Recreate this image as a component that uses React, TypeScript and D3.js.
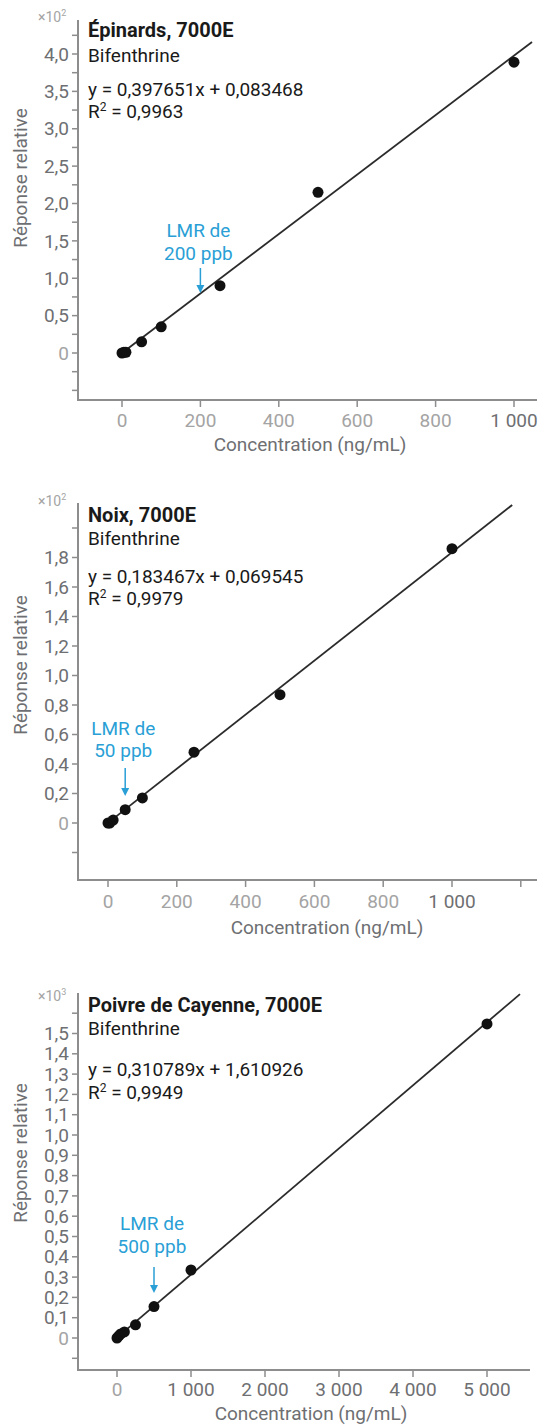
import React from "react";
import * as d3 from "d3";

// ---------- data ----------
const titles = ["Épinards, 7000E", "Noix, 7000E", "Poivre de Cayenne, 7000E"];
const compound = "Bifenthrine";
const equations = [
  "y = 0,397651x + 0,083468",
  "y = 0,183467x + 0,069545",
  "y = 0,310789x + 1,610926",
];
const r2Values = ["0,9963", "0,9979", "0,9949"];
const slopes = [0.397651, 0.183467, 0.310789];
const intercepts = [0.083468, 0.069545, 1.610926];
const exponents = [2, 2, 3];
const fitXMax = [1046, 1175, 5446];
const lmrValues = [200, 50, 500];

const concEpinards = [0, 5, 10, 50, 100, 250, 500, 1000];
const respEpinards = [0, 0.01, 0.01, 0.15, 0.35, 0.9, 2.15, 3.89];
const concNoix = [0, 5, 15, 50, 100, 250, 500, 1000];
const respNoix = [0, 0.0, 0.02, 0.09, 0.17, 0.48, 0.87, 1.86];
const concPoivre = [0, 25, 50, 100, 250, 500, 1000, 5000];
const respPoivre = [0, 0.01, 0.02, 0.03, 0.065, 0.155, 0.335, 1.547];

const yTicks1 = [-0.5, -0.25, 0, 0.25, 0.5, 0.75, 1, 1.25, 1.5, 1.75, 2, 2.25, 2.5, 2.75, 3, 3.25, 3.5, 3.75, 4, 4.25];
const yLabels1 = [0, 0.5, 1, 1.5, 2, 2.5, 3, 3.5, 4];
const xTicks1 = [0, 200, 400, 600, 800, 1000];
const xLabels1 = [0, 200, 400, 600, 800, 1000];

const yTicks2 = [-0.2, 0, 0.2, 0.4, 0.6, 0.8, 1.0, 1.2, 1.4, 1.6, 1.8, 2.0];
const yLabels2 = [0, 0.2, 0.4, 0.6, 0.8, 1.0, 1.2, 1.4, 1.6, 1.8];
const xTicks2 = [0, 200, 400, 600, 800, 1000, 1200];
const xLabels2 = [0, 200, 400, 600, 800, 1000];

const yTicks3 = [-0.1, 0, 0.1, 0.2, 0.3, 0.4, 0.5, 0.6, 0.7, 0.8, 0.9, 1.0, 1.1, 1.2, 1.3, 1.4, 1.5, 1.6];
const yLabels3 = [0, 0.1, 0.2, 0.3, 0.4, 0.5, 0.6, 0.7, 0.8, 0.9, 1.0, 1.1, 1.2, 1.3, 1.4, 1.5];
const xTicks3 = [0, 1000, 2000, 3000, 4000, 5000];
const xLabels3 = [0, 1000, 2000, 3000, 4000, 5000];

// ---------- layout ----------
const W = 543;
const H = 1427;
const FONT = "Roboto, 'Noto Sans', sans-serif";
const GRAY_AXIS = "#8d8d8d";
const GRAY_TEXT = "#6e6f72";
const GRAY_LIGHT = "#a4a4a4";
const BLUE = "#2a9fd6";

const fr = d3.formatLocale({ decimal: ",", thousands: "\u00a0", grouping: [3], currency: ["", "€"] });
const fmtX = fr.format(",d");
const fmtY1 = fr.format(".1f");

const panels = [
  {
    conc: concEpinards, resp: respEpinards, yTicks: yTicks1, yLabels: yLabels1, xTicks: xTicks1, xLabels: xLabels1,
    xDom: [0, 1000], xRange: [122, 514], yDom: [0, 4], yRange: [353, 54],
    axisLeft: 78, axisBottom: 400, axisTop: 20, axisRight: 537,
    textY: [37, 62, 96, 118], lmrY: [237, 260, 268, 293],
    yTitleY: 178, xTitleX: 310, xTitleY: 451, xLabelY: 427, expY: 22,
  },
  {
    conc: concNoix, resp: respNoix, yTicks: yTicks2, yLabels: yLabels2, xTicks: xTicks2, xLabels: xLabels2,
    xDom: [0, 1000], xRange: [108, 452], yDom: [0, 1.8], yRange: [823, 557.5],
    axisLeft: 78, axisBottom: 880, axisTop: 503, axisRight: 537,
    textY: [522, 545, 583, 605], lmrY: [735, 757, 768, 796],
    yTitleY: 665, xTitleX: 327, xTitleY: 934, xLabelY: 908, expY: 506,
  },
  {
    conc: concPoivre, resp: respPoivre, yTicks: yTicks3, yLabels: yLabels3, xTicks: xTicks3, xLabels: xLabels3,
    xDom: [0, 5000], xRange: [117, 487], yDom: [0, 1.5], yRange: [1338, 1033.5],
    axisLeft: 78, axisBottom: 1370, axisTop: 993, axisRight: 530,
    textY: [1012, 1035, 1076, 1099], lmrY: [1230, 1253, 1267, 1293],
    yTitleY: 1153, xTitleX: 311, xTitleY: 1420, xLabelY: 1396, expY: 1001,
  },
];

function Panel({ p, i }: { p: any; i: number }) {
  const x = d3.scaleLinear().domain(p.xDom).range(p.xRange);
  const y = d3.scaleLinear().domain(p.yDom).range(p.yRange);
  const div = Math.pow(10, exponents[i]);
  const fitX = [0, fitXMax[i]];
  const line = d3
    .line<number>()
    .x((d) => x(d))
    .y((d) => y((slopes[i] * d + intercepts[i]) / div));
  const lmrX = x(lmrValues[i]);
  const fs = 19;
  const isLightX = (t: number) => t === 0 || (i < 2 && t < 1000);
  return (
    <g fontFamily={FONT}>
      {/* axes */}
      <line x1={p.axisLeft} x2={p.axisLeft} y1={p.axisTop} y2={p.axisBottom} stroke={GRAY_AXIS} strokeWidth={2} />
      <line x1={p.axisLeft - 1} x2={p.axisRight} y1={p.axisBottom} y2={p.axisBottom} stroke={GRAY_AXIS} strokeWidth={2} />
      {p.yTicks.map((t: number, k: number) => (
        <line key={"yt" + k} x1={p.axisLeft - 6} x2={p.axisLeft} y1={y(t)} y2={y(t)} stroke={GRAY_AXIS} strokeWidth={1.5} />
      ))}
      {p.yLabels.map((t: number, k: number) => (
        <text key={"yl" + k} x={p.axisLeft - 9} y={y(t)} dy="0.35em" textAnchor="end" fontSize={fs}
          fill={t === 0 ? GRAY_LIGHT : GRAY_TEXT}>
          {t === 0 ? "0" : fmtY1(t)}
        </text>
      ))}
      {p.xTicks.map((t: number, k: number) => (
        <line key={"xt" + k} x1={x(t)} x2={x(t)} y1={p.axisBottom} y2={p.axisBottom + 7} stroke={GRAY_AXIS} strokeWidth={1.5} />
      ))}
      {p.xLabels.map((t: number, k: number) => (
        <text key={"xl" + k} x={x(t)} y={p.xLabelY} textAnchor="middle" fontSize={fs}
          fill={isLightX(t) ? GRAY_LIGHT : GRAY_TEXT}>
          {fmtX(t)}
        </text>
      ))}
      {/* exponent */}
      <text x={38} y={p.expY} fontSize={14} fill={GRAY_LIGHT}>
        ×10<tspan dy={-6} fontSize={9}>{exponents[i]}</tspan>
      </text>
      {/* axis titles */}
      <text transform={`translate(27,${p.yTitleY}) rotate(-90)`} textAnchor="middle" fontSize={fs} fill={GRAY_TEXT}>
        Réponse relative
      </text>
      <text x={p.xTitleX} y={p.xTitleY} textAnchor="middle" fontSize={fs} fill={GRAY_TEXT}>
        Concentration (ng/mL)
      </text>
      {/* fit line */}
      <path d={line(fitX) || ""} stroke="#2b2b2b" strokeWidth={1.8} fill="none" />
      {/* points */}
      {p.conc.map((c: number, k: number) => (
        <circle key={"pt" + k} cx={x(c)} cy={y(p.resp[k])} r={5.5} fill="#111" />
      ))}
      {/* annotation text */}
      <text x={88} y={p.textY[0]} fontSize={20} fontWeight={700} fill="#1a1a1a">{titles[i]}</text>
      <text x={88} y={p.textY[1]} fontSize={fs} fill="#1a1a1a">{compound}</text>
      <text x={88} y={p.textY[2]} fontSize={fs} fill="#1a1a1a">{equations[i]}</text>
      <text x={88} y={p.textY[3]} fontSize={fs} fill="#1a1a1a">
        R<tspan dy={-7} fontSize={12}>2</tspan><tspan dy={7}> = {r2Values[i]}</tspan>
      </text>
      {/* LMR */}
      <text x={lmrX - 2} y={p.lmrY[0]} textAnchor="middle" fontSize={fs} fill={BLUE}>LMR de</text>
      <text x={lmrX - 2} y={p.lmrY[1]} textAnchor="middle" fontSize={fs} fill={BLUE}>{lmrValues[i]} ppb</text>
      <line x1={lmrX} x2={lmrX} y1={p.lmrY[2]} y2={p.lmrY[3] - 6} stroke={BLUE} strokeWidth={1.5} />
      <path d={`M${lmrX - 4},${p.lmrY[3] - 8} L${lmrX + 4},${p.lmrY[3] - 8} L${lmrX},${p.lmrY[3]} Z`} fill={BLUE} />
    </g>
  );
}

export default function App() {
  return (
    <svg width={W} height={H} style={{ position: "absolute", left: 0, top: 0, background: "#fff" }}>
      <rect width={W} height={H} fill="#fff" />
      {panels.map((p, i) => (
        <Panel key={i} p={p} i={i} />
      ))}
    </svg>
  );
}
